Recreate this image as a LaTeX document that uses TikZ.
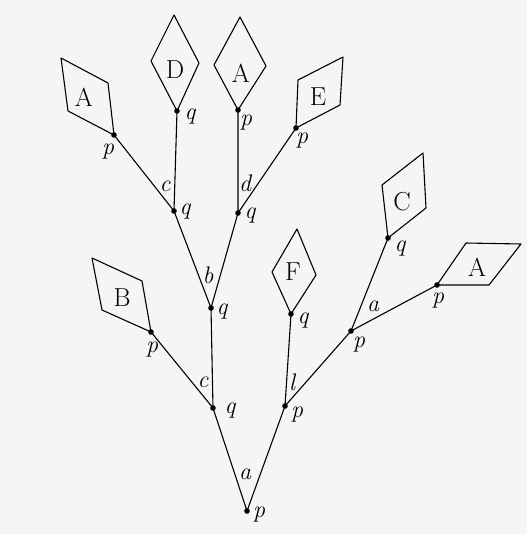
\documentclass[tikz,border=0pt]{standalone}
\usepackage{fontspec}
\usepackage{tikz}

\tikzset{
  branch/.style={line width=1.1pt},
  leaf/.style={line width=1.1pt, line join=round},
  tag/.style={font=\fontsize{24}{28}\selectfont\itshape},
  leaftext/.style={font=\fontsize{26}{30}\selectfont}
}

\begin{document}
\begin{tikzpicture}[x=1pt, y=-1pt]

% Paper
\fill[black!4] (0,0) rectangle (527,534);
\useasboundingbox (0,0) rectangle (527,534);

% Vertices of the tree
\coordinate (root) at (247,511);
\coordinate (lq) at (213,408);
\coordinate (rp) at (285,406);
\coordinate (bq) at (211,308);
\coordinate (Bp) at (151,332);
\coordinate (cq) at (174,211);
\coordinate (dq) at (238,213);
\coordinate (Dq) at (177,111);
\coordinate (Ap1) at (114,135);
\coordinate (Ap2) at (238,110);
\coordinate (Ep) at (296,128);
\coordinate (Fq) at (291,314);
\coordinate (ap) at (351,331);
\coordinate (Cq) at (388,238);
\coordinate (Ap3) at (437,285);

% Branches
\draw[branch] (root) -- (lq) (root) -- (rp);
\draw[branch] (lq) -- (bq) (lq) -- (Bp);
\draw[branch] (bq) -- (cq) (bq) -- (dq);
\draw[branch] (cq) -- (Dq) (cq) -- (Ap1);
\draw[branch] (dq) -- (Ap2) (dq) -- (Ep);
\draw[branch] (rp) -- (Fq) (rp) -- (ap);
\draw[branch] (ap) -- (Cq) (ap) -- (Ap3);

% Leaves
\draw[leaf] (Ap1) -- (68,111) -- (61,58) -- (108,83) -- cycle;
\node[leaftext] (lA1) at (84,97) {A};
\draw[leaf] (Dq) -- (151,61) -- (174,15) -- (199,63) -- cycle;
\node[leaftext] (lD) at (175,70) {D};
\draw[leaf] (Ap2) -- (214,65) -- (240,17) -- (266,66) -- cycle;
\node[leaftext] (lA2) at (241,73) {A};
\draw[leaf] (Ep) -- (298,80) -- (343,57) -- (340,105) -- cycle;
\node[leaftext] (lE) at (318,97) {E};
\draw[leaf] (Bp) -- (102,310) -- (92,258) -- (142,281) -- cycle;
\node[leaftext] (lB) at (122,298) {B};
\draw[leaf] (Fq) -- (272,272) -- (297,229) -- (316,275) -- cycle;
\node[leaftext] (lF) at (293,272) {F};
\draw[leaf] (Cq) -- (382,185) -- (423,153) -- (426,208) -- cycle;
\node[leaftext] (lC) at (402,202) {C};
\draw[leaf] (Ap3) -- (466,243) -- (521,244) -- (489,285) -- cycle;
\node[leaftext] (lA3) at (477,267) {A};

% Dots
\foreach \v in {root,lq,rp,bq,Bp,cq,dq,Dq,Ap1,Ap2,Ep,Fq,ap,Cq,Ap3}
  \fill (\v) circle (2.8);

% Labels at the dots
\node[tag] (t1) at (259,515) {p};
\node[tag] (t2) at (230,411) {q};
\node[tag] (t3) at (297,415) {p};
\node[tag] (t4) at (152,350) {p};
\node[tag] (t5) at (222,312) {q};
\node[tag] (t6) at (185,212) {q};
\node[tag] (t7) at (250,216) {q};
\node[tag] (t8) at (190,117) {q};
\node[tag] (t9) at (108,152) {p};
\node[tag] (t10) at (246,123) {p};
\node[tag] (t11) at (302,141) {p};
\node[tag] (t12) at (303,321) {q};
\node[tag] (t13) at (359,345) {p};
\node[tag] (t14) at (400,249) {q};
\node[tag] (t15) at (438,301) {p};

% Labels on the branches
\node[tag] (e1) at (245,474) {a};
\node[tag] (e2) at (203,382) {c};
\node[tag] (e3) at (292,382) {l};
\node[tag] (e4) at (208,275) {b};
\node[tag] (e5) at (165,186) {c};
\node[tag] (e6) at (245,183) {d};
\node[tag] (e7) at (373,306) {a};

\end{tikzpicture}
\end{document}
